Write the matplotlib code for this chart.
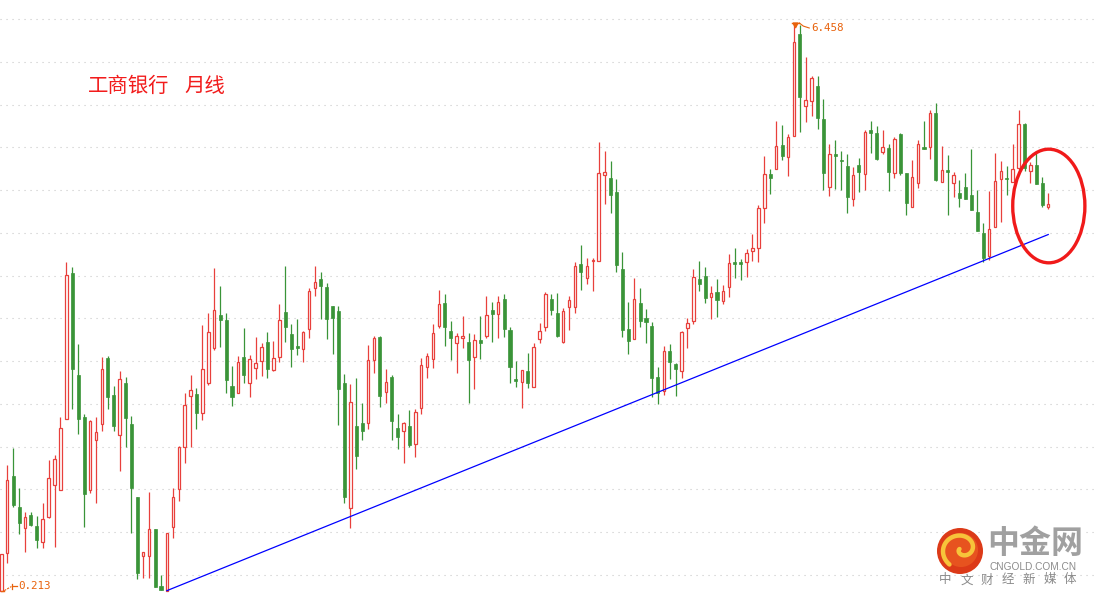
import matplotlib
matplotlib.use("Agg")
import matplotlib.pyplot as plt
from matplotlib.patches import Ellipse, Circle, Rectangle
import numpy as np

plt.rcParams['font.family'] = ['Noto Sans CJK SC', 'DejaVu Sans']

# ---- data (monthly OHLC) ----
opens = [0.213, 0.63, 1.47, 1.13, 0.90, 1.05, 0.92, 0.75, 1.02, 1.38,
         1.32, 2.10, 3.71, 2.59, 2.12, 1.32, 1.87, 2.05, 2.77, 2.37,
         1.93, 2.50, 2.05, 1.24, 0.59, 0.59, 0.89, 0.26, 0.213, 0.91,
         1.33, 1.79, 2.35, 2.38, 2.17, 2.50, 2.88, 3.25, 3.19, 2.46,
         2.39, 2.78, 2.50, 2.66, 2.74, 2.95, 2.64, 2.78, 3.28, 3.04,
         2.90, 2.87, 3.09, 3.54, 3.64, 3.55, 3.34, 3.29, 2.50, 1.12,
         2.02, 2.06, 2.06, 2.75, 3.00, 2.40, 2.56, 2.00, 1.97, 2.02,
         1.83, 2.22, 2.67, 2.76, 3.12, 3.38, 3.07, 2.94, 2.99, 2.95,
         2.78, 2.97, 3.01, 3.30, 3.26, 3.42, 3.08, 2.54, 2.51, 2.63,
         2.45, 2.98, 3.11, 3.42, 3.27, 2.95, 3.33, 3.33, 3.81, 3.65,
         3.84, 3.84, 4.79, 4.75, 4.60, 3.75, 3.09, 2.98, 3.38, 3.21,
         3.12, 2.56, 2.41, 2.85, 2.71, 2.63, 3.10, 3.18, 3.64, 3.67,
         3.44, 3.50, 3.40, 3.55, 3.83, 3.83, 3.83, 3.95, 3.98, 4.42,
         4.80, 4.85, 5.12, 4.98, 5.21, 6.34, 5.54, 5.60, 5.76, 5.40,
         4.65, 5.02, 4.95, 4.88, 4.52, 4.90, 4.80, 5.28, 5.25, 5.04,
         5.08, 4.81, 5.24, 4.81, 4.43, 4.70, 5.09, 5.09, 5.47, 4.71,
         4.84, 4.70, 4.59, 4.65, 4.57, 4.38, 4.15, 3.89, 4.21, 4.74,
         4.75, 4.71, 4.86, 5.35, 4.83, 4.90, 4.70, 4.43]
highs = [0.62, 1.60, 1.78, 1.34, 1.08, 1.08, 1.03, 1.18, 1.65, 1.71,
         2.12, 3.83, 3.77, 2.93, 2.16, 2.09, 2.12, 2.78, 2.79, 2.46,
         2.63, 2.56, 2.13, 1.24, 0.64, 1.30, 0.89, 0.39, 0.85, 1.34,
         1.80, 2.39, 2.59, 2.44, 3.14, 3.27, 3.76, 3.56, 3.27, 2.68,
         2.79, 3.10, 2.81, 3.00, 2.94, 3.06, 2.96, 3.37, 3.78, 3.15,
         3.20, 3.07, 3.54, 3.78, 3.72, 3.60, 3.34, 3.34, 2.60, 2.49,
         2.55, 2.28, 2.92, 3.01, 3.01, 2.65, 2.59, 2.16, 2.07, 2.20,
         2.21, 2.77, 2.83, 3.15, 3.52, 3.48, 3.18, 3.05, 3.23, 3.05,
         3.04, 3.23, 3.45, 3.39, 3.45, 3.48, 3.11, 2.74, 2.64, 2.83,
         2.94, 3.16, 3.50, 3.48, 3.49, 3.32, 3.45, 3.83, 4.02, 3.87,
         3.87, 5.15, 5.05, 4.94, 4.74, 3.94, 3.39, 3.65, 3.54, 3.31,
         3.17, 2.67, 2.90, 2.93, 2.72, 3.07, 3.21, 3.75, 3.84, 3.77,
         3.56, 3.64, 3.58, 3.92, 3.98, 3.86, 3.97, 4.14, 4.46, 4.99,
         4.85, 5.38, 5.34, 5.24, 6.458, 6.44, 6.08, 5.87, 5.87, 5.62,
         5.13, 5.17, 5.05, 5.02, 4.87, 4.97, 5.28, 5.38, 5.32, 5.28,
         5.13, 5.20, 5.25, 4.81, 4.95, 5.17, 5.38, 5.50, 5.58, 5.10,
         5.01, 4.82, 4.73, 4.81, 5.07, 4.62, 4.26, 4.61, 5.03, 4.94,
         4.88, 5.13, 5.50, 5.36, 4.93, 5.03, 4.76, 4.59]
lows = [0.213, 0.52, 1.13, 0.84, 0.64, 0.92, 0.68, 0.68, 1.01, 0.69,
        1.32, 2.10, 2.21, 1.94, 0.91, 1.29, 1.18, 1.97, 2.21, 1.97,
        1.53, 1.79, 0.85, 0.34, 0.35, 0.35, 0.25, 0.22, 0.213, 0.79,
        1.20, 1.62, 1.79, 1.99, 2.09, 2.48, 2.86, 2.89, 2.39, 2.24,
        2.39, 2.50, 2.34, 2.54, 2.57, 2.55, 2.63, 2.73, 2.95, 2.67,
        2.81, 2.73, 2.99, 3.45, 3.20, 2.98, 2.82, 2.04, 1.18, 0.90,
        1.55, 1.87, 1.99, 2.61, 2.23, 2.28, 1.87, 1.77, 1.62, 1.79,
        1.68, 2.16, 2.55, 2.66, 3.10, 2.90, 2.75, 2.61, 2.88, 2.28,
        2.43, 2.76, 2.99, 2.95, 2.99, 3.00, 2.50, 2.45, 2.22, 2.44,
        2.45, 2.94, 3.07, 3.25, 3.00, 2.94, 3.08, 3.27, 3.52, 3.59,
        3.51, 3.84, 4.47, 4.37, 3.72, 3.00, 2.82, 2.98, 3.11, 2.94,
        2.34, 2.27, 2.37, 2.54, 2.35, 2.55, 2.88, 3.15, 3.51, 3.38,
        3.20, 3.22, 3.37, 3.44, 3.65, 3.63, 3.66, 3.84, 3.83, 4.26,
        4.58, 4.85, 4.95, 4.77, 5.21, 5.26, 5.37, 5.43, 5.29, 4.62,
        4.55, 4.63, 4.62, 4.37, 4.44, 4.60, 4.62, 5.03, 4.95, 5.02,
        4.61, 4.75, 4.79, 4.35, 4.43, 4.64, 5.07, 4.96, 4.72, 4.71,
        4.35, 4.54, 4.43, 4.52, 4.40, 4.17, 3.83, 3.85, 4.21, 4.27,
        4.57, 4.71, 4.84, 4.83, 4.70, 4.69, 4.43, 4.41]
closes = [0.62, 1.43, 1.16, 0.96, 1.02, 0.94, 0.77, 1.00, 1.45, 1.66,
          2.00, 3.69, 2.65, 2.10, 1.28, 2.08, 1.96, 2.65, 2.34, 2.02,
          2.54, 2.11, 1.34, 0.41, 0.64, 0.89, 0.25, 0.22, 0.85, 1.24,
          1.79, 2.26, 2.42, 2.17, 2.65, 3.06, 3.30, 3.19, 2.53, 2.34,
          2.73, 2.59, 2.76, 2.72, 2.89, 2.65, 2.77, 3.19, 3.11, 2.87,
          2.88, 3.06, 3.51, 3.61, 3.56, 3.20, 3.21, 2.43, 1.24, 2.29,
          1.69, 1.97, 2.75, 2.99, 2.35, 2.51, 2.08, 1.90, 2.06, 1.82,
          2.18, 2.70, 2.79, 3.05, 3.37, 3.11, 2.99, 3.01, 3.01, 2.75,
          2.97, 2.94, 3.25, 3.26, 3.39, 3.09, 2.67, 2.52, 2.64, 2.50,
          2.89, 3.07, 3.48, 3.30, 3.01, 3.29, 3.41, 3.78, 3.72, 3.78,
          3.85, 4.81, 4.82, 4.57, 3.80, 3.08, 2.96, 3.42, 3.18, 3.17,
          2.55, 2.39, 2.85, 2.73, 2.65, 3.06, 3.16, 3.66, 3.59, 3.43,
          3.49, 3.41, 3.51, 3.82, 3.81, 3.81, 3.93, 3.98, 4.42, 4.80,
          4.75, 5.10, 4.99, 5.20, 6.25, 5.64, 5.61, 5.85, 5.41, 4.81,
          5.02, 4.99, 4.94, 4.54, 4.79, 4.82, 5.26, 5.25, 4.96, 5.09,
          4.82, 5.18, 4.81, 4.48, 4.76, 5.13, 5.07, 5.47, 4.73, 4.84,
          4.82, 4.79, 4.53, 4.52, 4.40, 4.17, 3.87, 4.19, 4.72, 4.83,
          4.74, 4.85, 5.35, 4.86, 4.90, 4.69, 4.46, 4.47]

title_left = "工商银行"
title_right = "月线"
high_label = "6.458"
low_label = "0.213"
high_index = 134
low_index = 0
trend_start = (28, 0.213)
trend_end = (177, 4.13)

UP = "#e8403c"
DOWN = "#3a9438"
LABEL = "#e8620c"

o = np.array(opens); h = np.array(highs); l = np.array(lows); c = np.array(closes)
n = len(o)
x = np.arange(n)
up = c >= o
dn = ~up

fig = plt.figure(figsize=(10.94, 5.96), dpi=100)
ax = fig.add_axes([0, 0, 1, 1])
XMIN, XMAX = -0.22, 184.74
ax.set_xlim(XMIN, XMAX)
ax.set_ylim(0.154, 6.71)
ax.axis('off')

# dotted horizontal grid
grid_levels = 0.385 + 0.4705 * np.arange(14)
ax.hlines(grid_levels, XMIN, XMAX, colors="#c8c8c8", linewidth=0.8,
          linestyles=[(0, (1.0, 4.4))], zorder=0)

# wicks
ax.vlines(x[dn], l[dn], h[dn], colors=DOWN, linewidth=0.9, zorder=2)
top_up = np.maximum(o[up], c[up])
bot_up = np.minimum(o[up], c[up])
ax.vlines(x[up], top_up, h[up], colors=UP, linewidth=0.9, zorder=2)
ax.vlines(x[up], l[up], bot_up, colors=UP, linewidth=0.9, zorder=2)

# bodies
ax.bar(x[up], c[up] - o[up], bottom=o[up], width=0.42, facecolor="white",
       edgecolor=UP, linewidth=0.9, zorder=3)
ax.bar(x[dn], o[dn] - c[dn], bottom=c[dn], width=0.52, facecolor=DOWN,
       edgecolor=DOWN, linewidth=0.5, zorder=3)

# trend line
ax.plot([trend_start[0], trend_end[0]], [trend_start[1], trend_end[1]],
        color="#0000ff", linewidth=0.9, zorder=4)

# red ellipse around last candles
ax.add_patch(Ellipse((177.1, 4.444), 12.2, 1.25, fill=False,
                     edgecolor="#f01a1a", linewidth=2.4, zorder=5))

# high label
hv = h[high_index]
ax.plot([high_index - 0.4, high_index + 0.9], [hv, hv], color=LABEL, lw=1.0, zorder=5)
ax.plot([high_index + 0.25], [hv - 0.02], marker='v', ms=3.5, color=LABEL, zorder=5)
ax.plot([high_index + 0.9, high_index + 1.6, high_index + 2.6], [hv, hv - 0.035, hv - 0.056],
        color=LABEL, lw=0.8, zorder=5)
ax.text(high_index + 2.95, hv - 0.056, high_label, color=LABEL, fontsize=7.8,
        family="DejaVu Sans Mono", va='center', ha='left', zorder=6)

# low label
lv = l[low_index]
ax.plot([low_index - 0.1, low_index + 0.5], [lv, lv], color=LABEL, lw=1.0, zorder=5)
ax.plot([low_index + 0.5, low_index + 1.7], [lv, lv + 0.045], color=LABEL, lw=0.8,
        linestyle=(0, (2, 1)), zorder=5)
ax.plot([low_index + 1.8, low_index + 1.8], [lv + 0.02, lv + 0.07], color=LABEL, lw=0.9, zorder=5)
ax.plot([low_index + 1.8, low_index + 2.7], [lv + 0.047, lv + 0.047], color=LABEL, lw=0.9, zorder=5)
ax.text(low_index + 2.85, lv + 0.047, low_label, color=LABEL, fontsize=7.8,
        family="DejaVu Sans Mono", va='center', ha='left', zorder=6)

# title
fig.text(88 / 1094, 1 - 86.5 / 596, title_left, fontsize=14.7, color="#f21c1c",
         va='center', ha='left')
fig.text(184 / 1094, 1 - 86.5 / 596, title_right, fontsize=14.7, color="#f21c1c",
         va='center', ha='left')

# logo (pixel coordinate axes)
lg = fig.add_axes([936 / 1094, 1 - 592 / 596, 148 / 1094, 66 / 596])
lg.set_xlim(936, 1084)
lg.set_ylim(592, 526)
lg.axis('off')
lg.patch.set_alpha(0)
lg.add_patch(Rectangle((984, 526), 98, 38, facecolor="white", edgecolor="none", zorder=1))
lg.add_patch(Circle((960, 551), 23, facecolor="#dc3a18", edgecolor="none", zorder=2))
lg.add_patch(Circle((961, 550), 17, facecolor="#ea5a22", edgecolor="none", zorder=2, alpha=0.8))
t = np.linspace(0.0, 2.3 * np.pi, 200)
r = 2.5 + 2.6 * t
sx = 962 + r * np.cos(t + np.pi)
sy = 549 - r * np.sin(t + np.pi) * 0.9
lg.plot(sx, sy, color="#f7c43a", lw=3.2, solid_capstyle='round', zorder=3)
lg.text(987, 544, "中金网", fontsize=23, color="#a0a0a0", fontweight='bold',
        va='center', ha='left', zorder=4)
lg.text(990, 567.5, "CNGOLD.COM.CN", fontsize=7.3, color="#8c8c8c",
        family="Liberation Sans", va='center', ha='left', zorder=4)
for k, ch in enumerate("中文财经新媒体"):
    lg.text(945.5 + 20.8 * k, 580, ch, fontsize=9, color="#8a8a8a",
            va='center', ha='center', zorder=4)

fig.savefig("out.png", dpi=100, facecolor="white")
